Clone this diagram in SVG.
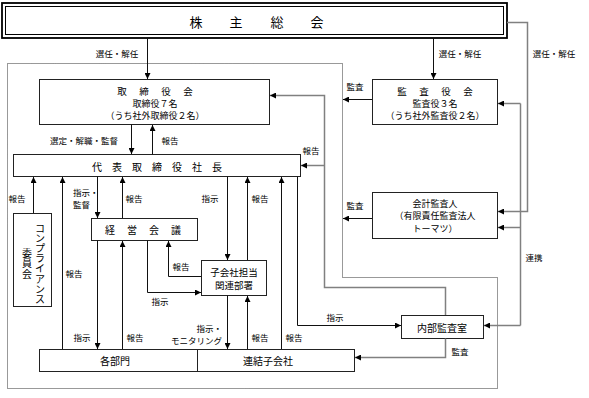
<svg xmlns="http://www.w3.org/2000/svg" width="589" height="398" viewBox="0 0 589 398">
<defs>
<marker id="ah" markerUnits="userSpaceOnUse" markerWidth="6" markerHeight="6" refX="6" refY="3" orient="auto"><path d="M0,0 L6,3 L0,6 z" fill="#000"/></marker>
<style>
.box{fill:#fff;stroke:#222;stroke-width:1}
.ln{fill:none;stroke:#111;stroke-width:1}
.lg{fill:none;stroke:#808080;stroke-width:1.5}
.ar{marker-end:url(#ah)}
.t{font-family:"Noto Sans CJK JP","Noto Sans CJK SC",sans-serif;fill:#000;text-anchor:middle;dominant-baseline:central}
.lb{font-size:8.5px}
.bt{font-size:9px}
.tt{font-size:10px}
.ht{font-size:9.5px}
</style>
</defs>
<rect x="0" y="0" width="589" height="398" fill="#fff"/>
<path d="M7.5,63.5 H342.5 V277.5 H497.5 V388.5 H7.5 Z" fill="none" stroke="#333" stroke-width="1" stroke-dasharray="1 1"/>

<g id="shareholders">
<rect x="2" y="3" width="505" height="35" fill="#fff" stroke="#000" stroke-width="1.8"/>
<rect x="5.5" y="6.5" width="498" height="28" fill="none" stroke="#000" stroke-width="1"/>
<text class="t" style="font-size:13px" x="196 236 277 317" y="21">株主総会</text>
</g>

<g id="board">
<rect class="box" x="39.5" y="79.5" width="230" height="45"/>
<text class="t ht" x="122 144 166 188" y="90.5">取締役会</text>
<text class="t bt" x="155" y="103">取締役７名</text>
<text class="t bt" x="155" y="115">（うち社外取締役２名）</text>
</g>

<g id="auditors">
<rect class="box" x="372.5" y="79.5" width="125" height="45"/>
<text class="t ht" x="402 424 446 468" y="90.5">監査役会</text>
<text class="t bt" x="435" y="103">監査役３名</text>
<text class="t bt" x="435" y="115">（うち社外監査役２名）</text>
</g>

<g id="accounting-auditor">
<rect class="box" x="372.5" y="192.5" width="125" height="46"/>
<text class="t bt" x="435" y="203">会計監査人</text>
<text class="t bt" x="435" y="215.5">（有限責任監査法人</text>
<text class="t bt" x="435" y="228">トーマツ）</text>
</g>

<g id="president">
<rect class="box" x="13.5" y="154.5" width="287" height="22"/>
<text class="t tt" x="97 117 137 157 177 197 217" y="166">代表取締役社長</text>
</g>

<g id="compliance">
<rect class="box" x="13.5" y="213.5" width="38" height="93"/>
<text class="t tt" x="40 40 40 40 40 40 40 40" y="227 237.2 247.4 257.6 267.8 278 288.2 298.4">コンプライアンス</text>
<text class="t tt" x="27 27 27" y="252 262.5 273">委員会</text>
</g>

<g id="management-meeting">
<rect class="box" x="91.5" y="218.5" width="106" height="22"/>
<text class="t tt" x="110 132 154 176" y="229.5">経営会議</text>
</g>

<g id="subsidiary-dept">
<rect class="box" x="201.5" y="260.5" width="65" height="35"/>
<text class="t ht" x="234" y="271.5">子会社担当</text>
<text class="t ht" x="234" y="284.5">関連部署</text>
</g>

<g id="divisions">
<rect class="box" x="39.5" y="349.5" width="158" height="22"/>
<text class="t tt" x="115" y="360.5">各部門</text>
</g>

<g id="subsidiaries">
<rect class="box" x="197.5" y="349.5" width="157" height="22"/>
<text class="t tt" x="268" y="360.5">連結子会社</text>
</g>

<g id="internal-audit">
<rect class="box" x="401.5" y="315.5" width="82" height="23"/>
<text class="t tt" x="442" y="327">内部監査室</text>
</g>

<g id="connectors">
<path class="ln ar" d="M147.5,38 V79"/>
<path class="ln ar" d="M433.5,38 V79"/>
<path class="lg ar" d="M507,22.5 H527.5 V211.5 H498"/>
<path class="ln ar" d="M372,99.5 H343"/>
<path class="ln ar" d="M372,218.5 H343"/>
<path class="lg" d="M520.5,103.5 V325.5"/>
<path class="lg ar" d="M520.5,103.5 H498"/>
<path class="lg ar" d="M520.5,227.5 H498"/>
<path class="lg ar" d="M520.5,325.5 H484"/>
<path class="ln ar" d="M131.5,124.5 V154"/>
<path class="ln ar" d="M152.5,154.5 V125"/>
<path class="lg ar" d="M445.5,315 V287.5 H324.5 V95.5 H270"/>
<path class="lg ar" d="M324.5,165.5 H301"/>
<path class="ln ar" d="M33.5,213 V177"/>
<path class="ln ar" d="M62.5,349 V177"/>
<path class="ln ar" d="M97.5,176.5 V218"/>
<path class="ln ar" d="M122.5,218 V177"/>
<path class="ln ar" d="M227.5,176.5 V260"/>
<path class="ln ar" d="M247.5,260 V177"/>
<path class="ln ar" d="M281.5,349 V177"/>
<path class="ln ar" d="M297.5,176.5 V325.5 H401"/>
<path class="ln ar" d="M97.5,240.5 V349"/>
<path class="ln ar" d="M122.5,349 V241"/>
<path class="ln ar" d="M147.5,240.5 V292.5 H201"/>
<path class="ln ar" d="M201,276.5 H168.5 V241"/>
<path class="ln ar" d="M227.5,295.5 V349"/>
<path class="ln ar" d="M247.5,349 V296"/>
<path class="lg ar" d="M445.5,338.5 V357.5 H355"/>
</g>

<g id="labels">
<text class="t lb" x="117" y="53">選任・解任</text>
<text class="t lb" x="460" y="53">選任・解任</text>
<text class="t lb" x="554" y="53">選任・解任</text>
<text class="t lb" x="355" y="86">監査</text>
<text class="t lb" x="84" y="140">選定・解職・監督</text>
<text class="t lb" x="170" y="140">報告</text>
<text class="t lb" x="311" y="150">報告</text>
<text class="t lb" x="17" y="198">報告</text>
<text class="t lb" x="73" y="191.5" style="text-anchor:start">指示・</text>
<text class="t lb" x="73" y="203.5" style="text-anchor:start">監督</text>
<text class="t lb" x="134" y="198">報告</text>
<text class="t lb" x="210" y="198">指示</text>
<text class="t lb" x="260" y="198">報告</text>
<text class="t lb" x="355" y="205">監査</text>
<text class="t lb" x="534" y="257">連携</text>
<text class="t lb" x="181" y="266">報告</text>
<text class="t lb" x="74" y="273">報告</text>
<text class="t lb" x="160" y="301">指示</text>
<text class="t lb" x="335" y="317">指示</text>
<text class="t lb" x="222" y="327.5" style="text-anchor:end">指示・</text>
<text class="t lb" x="222" y="339.5" style="text-anchor:end">モニタリング</text>
<text class="t lb" x="82" y="337">指示</text>
<text class="t lb" x="135" y="337">報告</text>
<text class="t lb" x="260" y="337">報告</text>
<text class="t lb" x="294" y="337">報告</text>
<text class="t lb" x="460" y="351">監査</text>
</g>
</svg>
